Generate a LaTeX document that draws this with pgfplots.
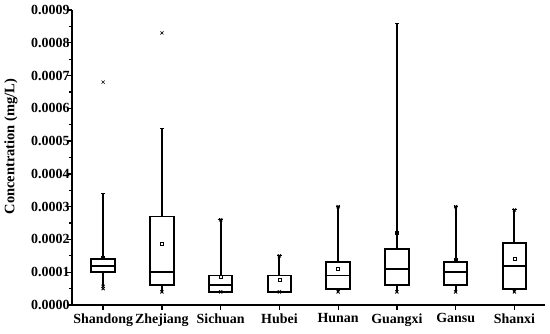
\documentclass[border=0pt]{standalone}
\usepackage{pgfplots}
\pgfplotsset{compat=1.18}
\usepgfplotslibrary{statistics}
\usepackage{fontspec}
\setmainfont{Liberation Serif}
\begin{document}
\begin{tikzpicture}
\begin{axis}[
  scale only axis, width=473bp, height=295bp,
  xmin=0.47, xmax=8.52, ymin=0, ymax=0.0009,
  axis x line*=bottom, axis y line*=left,
  axis line style={line width=1.6pt},
  xtick={1,2,3,4,5,6,7,8},
  xticklabels={Shandong,Zhejiang,Sichuan,Hubei,Hunan,Guangxi,Gansu,Shanxi},
  ytick={0,0.0001,0.0002,0.0003,0.0004,0.0005,0.0006,0.0007,0.0008,0.0009},
  minor y tick num=1,
  tick align=outside,
  major tick length=5bp, minor tick length=2.5bp,
  tick style={line width=1.3pt, black},
  scaled y ticks=false,
  yticklabel style={/pgf/number format/fixed, /pgf/number format/fixed zerofill, /pgf/number format/precision=4, /pgf/number format/assume math mode=true, font=\bfseries\fontsize{14}{16}\selectfont, xshift=6bp},
  xticklabel style={font=\bfseries\fontsize{14}{16}\selectfont},
  ylabel={Concentration (mg/L)},
  ylabel style={font=\bfseries\fontsize{14.5}{16}\selectfont, at={(axis description cs:-0.129,0.537)}, anchor=center},
  boxplot/draw direction=y,
  boxplot/box extend=0.4,
  boxplot/whisker extend=0,
  boxplot/every box/.style={draw=black, line width=2pt},
  boxplot/every whisker/.style={black, line width=2pt},
  boxplot/every median/.style={black, line width=2pt},
  boxplot/every average/.style={/tikz/mark=square, /tikz/mark size=1.5pt, /tikz/line width=0.5pt, /tikz/black},
  clip=false,
]
\addplot[black, boxplot prepared={draw position=1, lower whisker=0.000057, lower quartile=0.0001, median=0.00012, upper quartile=0.00014, upper whisker=0.00034, average=0.000145}] coordinates {};
\addplot[black, boxplot prepared={draw position=2, lower whisker=0.00004, lower quartile=0.00006, median=0.0001, upper quartile=0.00027, upper whisker=0.00054, average=0.000187}] coordinates {};
\addplot[black, boxplot prepared={draw position=3, lower whisker=0.00004, lower quartile=0.00004, median=0.00006, upper quartile=0.00009, upper whisker=0.00026, average=0.000085}] coordinates {};
\addplot[black, boxplot prepared={draw position=4, lower whisker=0.00004, lower quartile=0.00004, median=0.00004, upper quartile=0.00009, upper whisker=0.00015, average=0.000078}] coordinates {};
\addplot[black, boxplot prepared={draw position=5, lower whisker=0.00004, lower quartile=0.00005, median=0.00009, upper quartile=0.00013, upper whisker=0.0003, average=0.00011}] coordinates {};
\addplot[black, boxplot prepared={draw position=6, lower whisker=0.00004, lower quartile=0.00006, median=0.00011, upper quartile=0.00017, upper whisker=0.00086, average=0.00022}] coordinates {};
\addplot[black, boxplot prepared={draw position=7, lower whisker=0.00004, lower quartile=0.00006, median=0.0001, upper quartile=0.00013, upper whisker=0.0003, average=0.000138}] coordinates {};
\addplot[black, boxplot prepared={draw position=8, lower whisker=0.00004, lower quartile=0.00005, median=0.00012, upper quartile=0.00019, upper whisker=0.00029, average=0.00014}] coordinates {};
% outliers
\addplot[only marks, mark=x, mark size=2.2pt, black, line width=0.6pt] coordinates {(1,0.00068) (2,0.00083)};
% min / max markers
\addplot[only marks, mark=x, mark size=2.2pt, black, line width=0.9pt] coordinates {
(1,0.00005) (1,0.000057) (2,0.00004) (3,0.00004) (3,0.00026) (4,0.00004) (4,0.00015)
(5,0.00004) (5,0.0003) (6,0.00004) (7,0.00004) (7,0.0003) (8,0.00004) (8,0.00029)};
\addplot[only marks, mark=-, mark size=2.2pt, black, line width=0.9pt] coordinates {
(1,0.00034) (2,0.00054) (3,0.00026) (4,0.00015) (5,0.0003) (6,0.00086) (7,0.0003) (8,0.00029)};
\end{axis}
\pgfresetboundingbox
\path[use as bounding box] (-72bp,-29bp) rectangle (478bp,305bp);
\end{tikzpicture}
\end{document}
